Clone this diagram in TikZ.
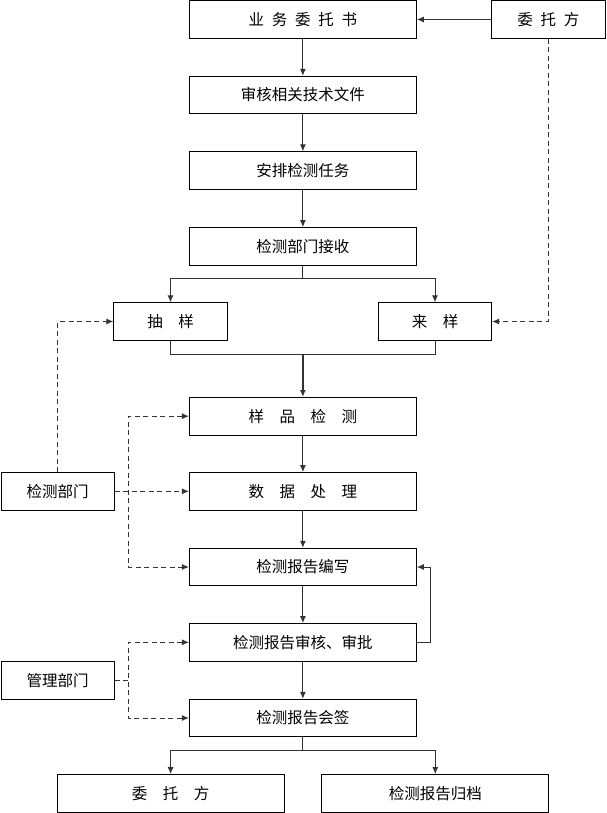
\documentclass[tikz,border=0pt]{standalone}
\usepackage{fontspec}
\setmainfont{Noto Sans CJK SC}
\usetikzlibrary{arrows.meta}

\def\colX{302.9}
\def\busX{128.3}

\begin{document}
\begin{tikzpicture}[x=1pt, y=-1pt, >={Latex[length=7pt,width=6pt]},
    every node/.style={font=\fontsize{15.5}{18}\selectfont},
    bigbox/.style={draw, line width=0.9pt, minimum width=227pt, minimum height=37.5pt, inner sep=0pt},
    smallbox/.style={bigbox, minimum width=113.3pt},
    flow/.style={line width=1pt, black!80},
    dashflow/.style={flow, dash pattern=on 5pt off 3.5pt}]
      \useasboundingbox (0,0) rectangle (606,813);

      \node[bigbox] (ywwt) at (\colX,19.5) {业\enspace 务\enspace 委\enspace 托\enspace 书};
      \node[bigbox] (shwj) at (\colX,95) {审核相关技术文件};
      \node[bigbox] (apjc) at (\colX,170.5) {安排检测任务};
      \node[bigbox] (jcjs) at (\colX,246.3) {检测部门接收};
      \node[smallbox] (cy) at (170.5,321.5) {抽\quad 样};
      \node[smallbox] (ly) at (435,321.5) {来\quad 样};
      \node[bigbox] (ypjc) at (\colX,416.2) {样\quad 品\quad 检\quad 测};
      \node[bigbox] (sjcl) at (\colX,491.3) {数\quad 据\quad 处\quad 理};
      \node[bigbox] (bgbx) at (\colX,567) {检测报告编写};
      \node[bigbox] (bgsh) at (\colX,642.3) {检测报告审核、审批};
      \node[bigbox] (bghq) at (\colX,718) {检测报告会签};
      \node[smallbox] (wtf) at (548.4,19.5) {委\enspace 托\enspace 方};
      \node[smallbox] (jcbm) at (57.7,491.3) {检测部门};
      \node[smallbox] (glbm) at (57.7,680.3) {管理部门};
      \node[bigbox] (wtfEnd) at (170.6,793.3) {委\quad 托\quad 方};
      \node[bigbox] (bggd) at (435.3,793.3) {检测报告归档};

      \coordinate (split1) at (\colX,278.3);
      \coordinate (merge) at (\colX,354.7);
      \coordinate (split2) at (\colX,750.7);
      \coordinate (busA) at (\busX,416.2);
      \coordinate (busB) at (\busX,567);
      \coordinate (busC) at (\busX,642.3);
      \coordinate (busD) at (\busX,718);
      \coordinate (fb) at (430.2,642.3);

      \foreach \a/\b in {ywwt/shwj, shwj/apjc, apjc/jcjs, ypjc/sjcl, sjcl/bgbx, bgbx/bgsh, bgsh/bghq} {
          \draw[flow, ->] (\a) -- (\b);
      }
      \draw[flow] (jcjs) -- (split1);
      \draw[flow, ->] (split1) -| (cy.north);
      \draw[flow, ->] (split1) -| (ly.north);
      \draw[flow] (cy.south) |- (merge) -| (ly.south);
      \draw[flow, ->, line width=1.4pt] (merge) -- (ypjc);
      \draw[flow, ->] (wtf) -- (ywwt);
      \draw[flow, ->] (bgsh.east) -- (fb) |- (bgbx.east);
      \draw[flow] (bghq) -- (split2);
      \draw[flow, ->] (split2) -| (wtfEnd.north);
      \draw[flow, ->] (split2) -| (bggd.north);

      \draw[dashflow, ->] (wtf.south) |- (ly.east);
      \draw[dashflow, ->] (jcbm.north) |- (cy.west);
      \draw[dashflow, ->] (jcbm) -- (sjcl);
      \draw[dashflow, <->] (ypjc.west) -- (busA) -- (busB) -- (bgbx.west);
      \draw[dashflow, <->] (bgsh.west) -- (busC) -- (busD) -- (bghq.west);
      \draw[dashflow] (glbm.east) -- (glbm.east -| busC);
\end{tikzpicture}
\end{document}
